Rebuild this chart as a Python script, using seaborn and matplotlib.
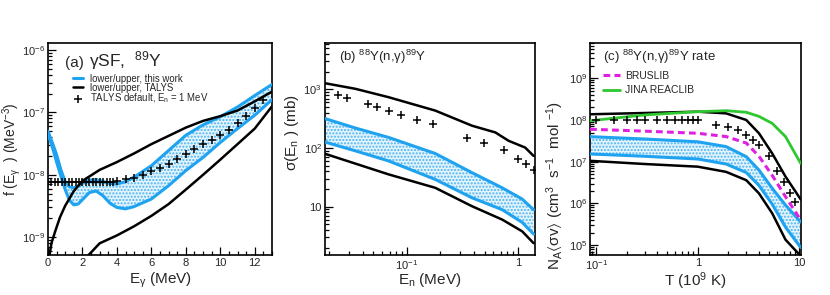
import numpy as np
import matplotlib
matplotlib.use('Agg')
import matplotlib.pyplot as plt
import seaborn as sns
from matplotlib.ticker import MultipleLocator, LogLocator, NullFormatter, FuncFormatter

# ---------------- (a) gamma strength function ----------------
eg_band = [0, 0.25, 0.5, 0.75, 1.0, 1.25, 1.5, 1.75, 2.0, 2.4, 2.8, 3.2, 3.6, 4.0,
           4.5, 5, 6, 7, 8, 9, 10, 11, 12, 13]
f_hi = [5.0e-8, 3.3e-8, 2.1e-8, 1.2e-8, 7.8e-9, 6.4e-9, 6.2e-9, 6.6e-9, 7.3e-9, 8.2e-9,
        8.4e-9, 7.8e-9, 7.3e-9, 7.1e-9, 7.8e-9, 9.2e-9, 1.4e-8, 2.45e-8, 4.3e-8, 6.3e-8,
        8.5e-8, 1.22e-7, 1.86e-7, 2.8e-7]
f_lo = [4.5e-8, 2.8e-8, 1.6e-8, 9.5e-9, 5.8e-9, 3.9e-9, 3.3e-9, 3.4e-9, 4.0e-9, 5.2e-9,
        5.5e-9, 4.6e-9, 3.5e-9, 3.0e-9, 2.85e-9, 3.1e-9, 4.1e-9, 6.7e-9, 1.17e-8, 1.9e-8,
        3.3e-8, 5.5e-8, 9.0e-8, 1.6e-7]

eg_talys_hi = [0.08, 0.2, 0.4, 0.7, 1.0, 1.5, 2.0, 3.0, 4.0, 5.0, 6.0, 7.0, 8.0, 9.0,
               10.0, 11.0, 12.0, 13.0]
f_talys_hi = [5e-10, 8e-10, 1.2e-9, 2.1e-9, 3.2e-9, 5.5e-9, 8.0e-9, 1.2e-8, 1.6e-8, 2.2e-8,
              3.1e-8, 4.2e-8, 5.7e-8, 7.3e-8, 8.7e-8, 1.07e-7, 1.5e-7, 2.15e-7]
eg_talys_lo = [2.3, 3.0, 4.0, 5.0, 6.0, 7.0, 8.0, 9.0, 10.0, 11.0, 12.0, 13.0]
f_talys_lo = [5e-10, 8e-10, 1.07e-9, 1.5e-9, 2.2e-9, 3.4e-9, 5.8e-9, 1.0e-8, 1.75e-8,
              3.1e-8, 5.5e-8, 1.25e-7]

eg_def = [0.0, 0.2, 0.4, 0.6, 0.8, 1.0, 1.2, 1.4, 1.6, 1.8, 2.0, 2.2, 2.4, 2.6, 2.8, 3.0,
          3.2, 3.4, 3.6, 3.8, 4.0, 4.5, 5.0, 5.5, 6.0, 6.5, 7.0, 7.5, 8.0, 8.5, 9.0, 9.5,
          10.0, 10.5, 11.0, 11.5, 12.0, 12.5]
f_def = [7.6e-9, 7.6e-9, 7.6e-9, 7.6e-9, 7.6e-9, 7.6e-9, 7.6e-9, 7.6e-9, 7.6e-9, 7.6e-9,
         7.6e-9, 7.6e-9, 7.6e-9, 7.6e-9, 7.6e-9, 7.6e-9, 7.6e-9, 7.6e-9, 7.7e-9, 7.8e-9,
         7.9e-9, 8.6e-9, 9.0e-9, 1.0e-8, 1.13e-8, 1.28e-8, 1.5e-8, 1.76e-8, 2.17e-8, 2.55e-8,
         3.1e-8, 3.65e-8, 4.27e-8, 5.3e-8, 6.75e-8, 8.7e-8, 1.17e-7, 1.55e-7]

# ---------------- (b) cross section ----------------
en_band = [0.018, 0.0343, 0.0684, 0.18, 0.385, 0.72, 1.09, 1.38]
sig_hi = [322, 220, 152, 80.8, 38.1, 21, 13.5, 8.9]
sig_lo = [128, 89.8, 60.4, 29.2, 14.2, 8.9, 5.4, 3.42]
en_talys_hi = [0.018, 0.0343, 0.0684, 0.18, 0.385, 0.625, 0.824, 1.16, 1.38]
sig_talys_hi = [1285, 1027, 738, 436, 241, 185, 133, 102, 73.6]
en_talys_lo = [0.018, 0.0343, 0.0684, 0.18, 0.385, 0.72, 1.09, 1.38]
sig_talys_lo = [80.8, 54.4, 35.6, 21, 10.2, 6.03, 3.8, 2.39]
en_def = [0.0239, 0.0288, 0.0445, 0.0537, 0.0684, 0.0883, 0.123, 0.171, 0.347, 0.498,
          0.743, 1.0, 1.19, 1.38]
sig_def = [789, 719, 568, 511, 436, 373, 305, 258, 148, 120, 93.3, 66.3, 53, 41.8]

# ---------------- (c) reaction rate ----------------
t_grid = [0.087, 0.3, 1.0, 1.9, 3.0, 4.0, 5.4, 7.3, 10.3]
rate_hi = [3.98e7, 3.5e7, 3.0e7, 2.3e7, 1.32e7, 6.3e6, 2.3e6, 9.1e5, 3.6e5]
rate_lo = [1.53e7, 1.35e7, 1.16e7, 8.8e6, 5.5e6, 2.7e6, 9.6e5, 2.7e5, 8.8e4]
rate_talys_hi = [1.37e8, 1.47e8, 1.58e8, 1.44e8, 1.0e8, 4.8e7, 1.58e7, 4.4e6, 1.25e6]
rate_talys_lo = [1.05e7, 8.8e6, 7.6e6, 5.7e6, 3.6e6, 1.74e6, 5.8e5, 1.35e5, 5.5e4]
rate_bruslib = [6.0e7, 5.4e7, 4.8e7, 4.0e7, 2.8e7, 1.35e7, 4.7e6, 1.45e6, 4.0e5]
rate_jina = [9.6e7, 1.32e8, 1.58e8, 1.67e8, 1.53e8, 1.22e8, 8.3e7, 4.0e7, 9.1e6]
t_def = [0.1, 0.15, 0.2, 0.25, 0.3, 0.4, 0.5, 0.6, 0.7, 0.8, 0.9, 1.0, 1.5, 2.0, 2.5,
         3.0, 3.5, 4.0, 5.0, 6.0, 7.0, 8.0, 9.0]
rate_def = [1.0e8, 1.0e8, 1.0e8, 1.0e8, 1.0e8, 1.0e8, 1.0e8, 1.0e8, 1.0e8, 1.0e8, 1.0e8,
            1.0e8, 7.6e7, 6.9e7, 5.75e7, 4.4e7, 3.3e7, 2.5e7, 1.37e7, 6.0e6, 3.3e6,
            1.78e6, 1.07e6]

BLUE = '#1fa3f0'
MAGENTA = '#e020e0'
GREEN = '#2ec82e'

sns.set_style('ticks')
plt.rcParams['font.family'] = ['Liberation Sans', 'DejaVu Sans']
plt.rcParams['mathtext.fontset'] = 'custom'
plt.rcParams['mathtext.rm'] = 'Liberation Sans'
plt.rcParams['mathtext.it'] = 'Liberation Sans:italic'
plt.rcParams['mathtext.bf'] = 'Liberation Sans:bold'
plt.rcParams['mathtext.default'] = 'regular'
plt.rcParams['hatch.linewidth'] = 1.0


def tenpow(v, pos):
    if np.isclose(v, 1):
        return '1'
    if np.isclose(v, 10):
        return '10'
    return r'$10^{%d}$' % int(round(np.log10(v)))


def style(ax):
    for s in ax.spines.values():
        s.set_visible(True)
        s.set_linewidth(1.2)
        s.set_color('black')
    ax.tick_params(which='both', direction='in', top=False, right=False,
                   labelsize=8, width=0.9, color='black')
    ax.tick_params(which='major', length=5.5, pad=2)
    ax.tick_params(which='minor', length=2.8)


def band(ax, x, lo, hi):
    ax.fill_between(x, lo, hi, facecolor='#e4f4fd', edgecolor='#4ab4f2',
                    hatch='.....', linewidth=0, zorder=1)


def line(ax, x, y, color, lw, label=None, ls='-'):
    sns.lineplot(x=x, y=y, ax=ax, color=color, linewidth=lw, linestyle=ls,
                 sort=False, estimator=None, label=label, legend=False, zorder=3)


def crosses(ax, x, y, label=None):
    sns.scatterplot(x=x, y=y, ax=ax, marker='+', s=32, color='black',
                    linewidth=1.1, label=label, legend=False, zorder=4)


def log_axis(axis):
    axis.set_major_locator(LogLocator(base=10, numticks=10))
    axis.set_minor_locator(LogLocator(base=10, subs=np.arange(2, 10), numticks=20))
    axis.set_major_formatter(FuncFormatter(tenpow))
    axis.set_minor_formatter(NullFormatter())


fig = plt.figure(figsize=(8.3, 2.95), dpi=100)
axa = fig.add_axes([0.0578, 0.1356, 0.2699, 0.7186])
axb = fig.add_axes([0.3912, 0.1356, 0.2537, 0.7186])
axc = fig.add_axes([0.7108, 0.1356, 0.2544, 0.7186])

# (a)
band(axa, eg_band, f_lo, f_hi)
line(axa, eg_band, f_hi, BLUE, 2.2, 'lower/upper, this work')
line(axa, eg_band, f_lo, BLUE, 2.2)
line(axa, eg_talys_hi, f_talys_hi, 'black', 1.8, 'lower/upper, TALYS')
line(axa, eg_talys_lo, f_talys_lo, 'black', 1.8)
crosses(axa, eg_def, f_def, 'TALYS default, E$_{n}$ = 1 MeV')
axa.set_yscale('log')
axa.set_xlim(0, 13)
axa.set_ylim(5.2e-10, 1.29e-6)
axa.xaxis.set_major_locator(MultipleLocator(2))
axa.xaxis.set_minor_locator(MultipleLocator(0.5))
log_axis(axa.yaxis)
axa.set_xlabel('E$_{γ}$ (MeV)', fontsize=11)
axa.set_ylabel('f (E$_{γ}$  ) (MeV$^{-3}$)', fontsize=10)
axa.xaxis.set_label_coords(0.5, -0.075)
axa.yaxis.set_label_coords(-0.112, 0.5)
style(axa)
axa.text(0.076, 0.888, '(a)', transform=axa.transAxes,
         fontsize=11, va='baseline', ha='left')
axa.text(0.185, 0.888, 'γSF,  $^{89}$Y', transform=axa.transAxes,
         fontsize=12.5, va='baseline', ha='left')
h, l = axa.get_legend_handles_labels()
axa.legend(h, l, loc='upper left', bbox_to_anchor=(0.113, 0.856), borderaxespad=0,
           borderpad=0, frameon=False, fontsize=6.9, handlelength=1.0,
           handletextpad=0.7, labelspacing=-0.1)

# (b)
band(axb, en_band, sig_lo, sig_hi)
line(axb, en_band, sig_hi, BLUE, 2.2)
line(axb, en_band, sig_lo, BLUE, 2.2)
line(axb, en_talys_hi, sig_talys_hi, 'black', 1.8)
line(axb, en_talys_lo, sig_talys_lo, 'black', 1.8)
crosses(axb, en_def, sig_def)
axb.set_xscale('log')
axb.set_yscale('log')
axb.set_xlim(0.0182, 1.43)
axb.set_ylim(1.5, 6200)
log_axis(axb.xaxis)
log_axis(axb.yaxis)
axb.set_xlabel('E$_{n}$ (MeV)', fontsize=11)
axb.set_ylabel('σ(E$_{n}$ ) (mb)', fontsize=11)
axb.xaxis.set_label_coords(0.5, -0.075)
axb.yaxis.set_label_coords(-0.112, 0.58)
style(axb)
axb.text(0.07, 0.933, '(b) $^{88}$Y(n,γ)$^{89}$Y', transform=axb.transAxes,
         fontsize=9.5, va='center', ha='left')

# (c)
band(axc, t_grid, rate_lo, rate_hi)
line(axc, t_grid, rate_hi, BLUE, 2.2)
line(axc, t_grid, rate_lo, BLUE, 2.2)
line(axc, t_grid, rate_talys_hi, 'black', 1.8)
line(axc, t_grid, rate_talys_lo, 'black', 1.8)
line(axc, t_grid, rate_bruslib, MAGENTA, 2.2, 'BRUSLIB', ls=(0, (2.2, 1.4)))
line(axc, t_grid, rate_jina, GREEN, 2.0, 'JINA REACLIB')
crosses(axc, t_def, rate_def)
axc.set_xscale('log')
axc.set_yscale('log')
axc.set_xlim(0.0868, 10.4)
axc.set_ylim(5.8e4, 7e9)
log_axis(axc.xaxis)
log_axis(axc.yaxis)
axc.set_xlabel('T (10$^{9}$ K)', fontsize=11)
axc.set_ylabel(r'N$_{A}\langle$σv$\rangle$ (cm$^{3}$  s$^{-1}$  mol $^{-1}$)', fontsize=11)
axc.xaxis.set_label_coords(0.5, -0.075)
axc.yaxis.set_label_coords(-0.113, 0.33)
style(axc)
axc.text(0.061, 0.933, '(c) $^{88}$Y(n,γ)$^{89}$Y rate', transform=axc.transAxes,
         fontsize=9.5, va='center', ha='left')
h, l = axc.get_legend_handles_labels()
axc.legend(h, l, loc='upper left', bbox_to_anchor=(0.061, 0.869), borderaxespad=0,
           borderpad=0, frameon=False, fontsize=7.5, handlelength=1.6,
           handletextpad=0.5, labelspacing=0.45)

fig.savefig('out.png', dpi=100)
